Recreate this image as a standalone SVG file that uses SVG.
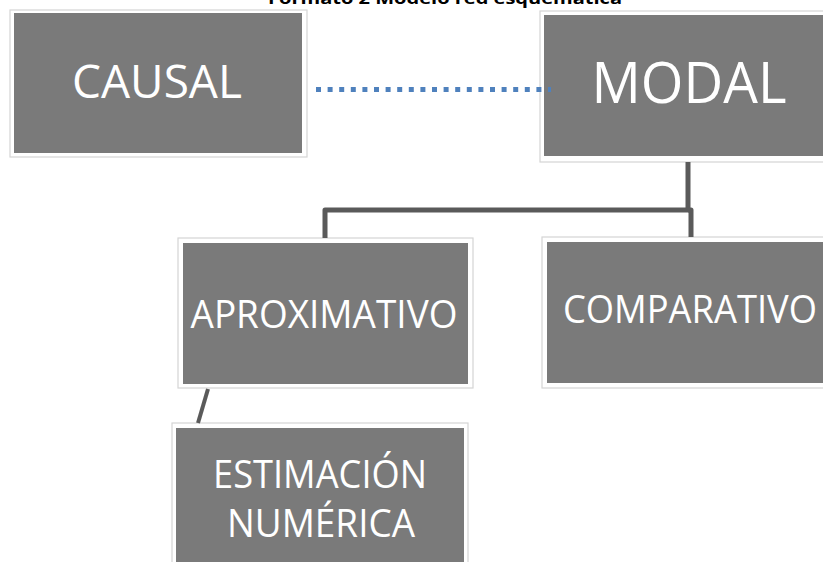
<svg xmlns="http://www.w3.org/2000/svg" width="823" height="562" viewBox="0 0 823 562">
<style>
.frame{fill:#ffffff;stroke:#d4d4d4;stroke-width:1.2}
.inner{fill:#7a7a7a}
.lbl{font-family:"Open Sans","Liberation Sans",sans-serif;fill:#ffffff;text-anchor:middle}
.conn{fill:none;stroke:#5a5a5a;stroke-width:5;stroke-linejoin:round}
.dot{fill:none;stroke:#4f81bd;stroke-width:5;stroke-dasharray:5 6.6}
</style>
<rect width="823" height="562" fill="#ffffff"/>
<text x="445" y="4" font-family="'Open Sans','Liberation Sans',sans-serif" font-weight="bold" font-size="16" text-anchor="middle" textLength="354" lengthAdjust="spacingAndGlyphs" fill="#000">Formato 2 Modelo red esquemática</text>
<g id="causal">
<rect class="frame" x="10" y="10" width="297" height="147"/>
<rect class="inner" x="14" y="13" width="288" height="140"/>
<text class="lbl" x="157" y="98" font-size="46" textLength="170" lengthAdjust="spacingAndGlyphs">CAUSAL</text>
</g>
<g id="modal">
<rect class="frame" x="540" y="11" width="290" height="151"/>
<rect class="inner" x="544" y="15" width="286" height="141"/>
<text class="lbl" x="689" y="103" font-size="57" textLength="195" lengthAdjust="spacingAndGlyphs">MODAL</text>
</g>
<g id="aproximativo">
<rect class="frame" x="178" y="238" width="295" height="150"/>
<rect class="inner" x="183" y="243" width="285" height="141"/>
<text class="lbl" x="324" y="328" font-size="38" textLength="267" lengthAdjust="spacingAndGlyphs">APROXIMATIVO</text>
</g>
<g id="comparativo">
<rect class="frame" x="542" y="237" width="290" height="151"/>
<rect class="inner" x="547" y="242" width="285" height="141"/>
<text class="lbl" x="690" y="323" font-size="38" textLength="254" lengthAdjust="spacingAndGlyphs">COMPARATIVO</text>
</g>
<g id="estimacion">
<rect class="frame" x="172" y="423" width="296" height="150"/>
<rect class="inner" x="176" y="428" width="288" height="140"/>
<text class="lbl" x="320" y="488" font-size="38" textLength="214" lengthAdjust="spacingAndGlyphs">ESTIMACIÓN</text>
<text class="lbl" x="321" y="537" font-size="38" textLength="188" lengthAdjust="spacingAndGlyphs">NUMÉRICA</text>
</g>
<g id="connectors">
<line class="dot" x1="316" y1="89.5" x2="551" y2="89.5"/>
<path class="conn" d="M688 162 V210 H325 V238"/>
<path class="conn" d="M688 210 H691 V237"/>
<line x1="208" y1="389" x2="198" y2="423" stroke="#5a5a5a" stroke-width="4"/>
</g>
</svg>
